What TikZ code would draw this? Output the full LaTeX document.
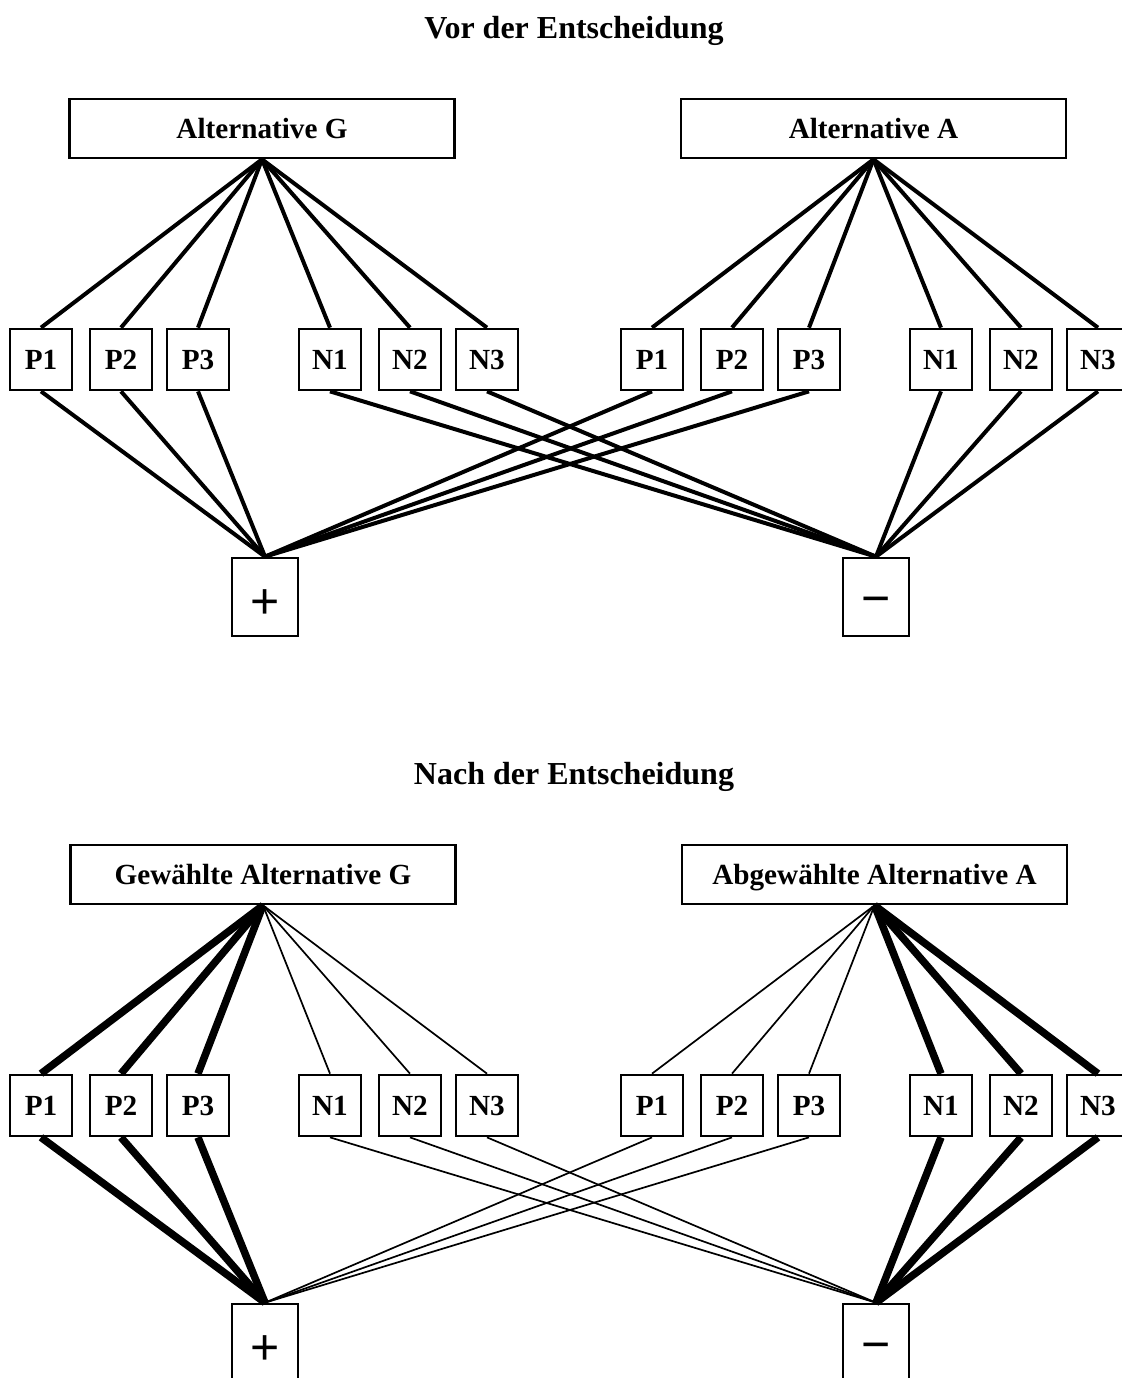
\documentclass[tikz,border=0pt]{standalone}
\usepackage{fontspec}
\setmainfont{Liberation Serif}
\newfontfamily\signfont{Liberation Sans}
\begin{document}
\begin{tikzpicture}[x=0.5pt,y=-0.5pt,
  box/.style={draw,line width=1.35pt,inner sep=0pt,
    font=\fontsize{14.6}{17}\selectfont\bfseries,text height=9.67pt,text depth=0pt},
  altbox/.style={box,minimum width=192.5pt,minimum height=29.5pt},
  itembox/.style={box,minimum width=31pt,minimum height=30.5pt},
  signbox/.style={box,minimum width=33pt,minimum height=39pt,
    font=\fontsize{25}{28}\signfont,text height=18pt},
  heading/.style={font=\fontsize{16}{19}\selectfont\bfseries,anchor=base,inner sep=0pt},
  link/.style={line width=2pt},
  strong/.style={line width=3.75pt},
  weak/.style={line width=0.85pt}]

\fill[white] (0,0) rectangle (1121,1378);
\useasboundingbox (0,0) rectangle (1121,1378);

% ---------- before the decision ----------
\node[heading] (t1) at (574,38) {Vor der Entscheidung};
\node[altbox] (tG) at (262,128.5) {Alternative G};
\node[altbox] (tA) at (873.5,128.5) {Alternative A};
\foreach \n/\x in {P1/41,P2/121,P3/198,N1/330,N2/410,N3/487} {
  \node[itembox] (tl\n) at (\x,359.5) {\n};
  \node[itembox] (tr\n) at (\x+611,359.5) {\n};
}
\node[signbox,text height=21pt] (tplus) at (265,597) {+};
\node[signbox] (tminus) at (876,597) {−};

\foreach \n in {P1,P2,P3,N1,N2,N3} {
  \draw[link] (tG.south) -- (tl\n.north);
  \draw[link] (tA.south) -- (tr\n.north);
}
\foreach \n in {P1,P2,P3} {
  \draw[link] (tl\n.south) -- (tplus.north);
  \draw[link] (tr\n.south) -- (tplus.north);
}
\foreach \n in {N1,N2,N3} {
  \draw[link] (tl\n.south) -- (tminus.north);
  \draw[link] (tr\n.south) -- (tminus.north);
}

% ---------- after the decision ----------
\node[heading] (t2) at (574,784) {Nach der Entscheidung};
\node[altbox] (bG) at (263,874.5) {Gewählte Alternative G};
\node[altbox] (bA) at (874.5,874.5) {Abgewählte Alternative A};
\foreach \n/\x in {P1/41,P2/121,P3/198,N1/330,N2/410,N3/487} {
  \node[itembox] (bl\n) at (\x,1105.5) {\n};
  \node[itembox] (br\n) at (\x+611,1105.5) {\n};
}
\node[signbox,text height=21pt] (bplus) at (265,1343) {+};
\node[signbox] (bminus) at (876,1343) {−};

% chosen alternative: positive links strong, negative links weak
\foreach \n in {P1,P2,P3} {
  \draw[strong] (bG.south) -- (bl\n.north);
  \draw[strong] (bl\n.south) -- (bplus.north);
  \draw[weak] (bA.south) -- (br\n.north);
  \draw[weak] (br\n.south) -- (bplus.north);
}
% rejected alternative: negative links strong, positive links weak
\foreach \n in {N1,N2,N3} {
  \draw[weak] (bG.south) -- (bl\n.north);
  \draw[weak] (bl\n.south) -- (bminus.north);
  \draw[strong] (bA.south) -- (br\n.north);
  \draw[strong] (br\n.south) -- (bminus.north);
}
\end{tikzpicture}
\end{document}
